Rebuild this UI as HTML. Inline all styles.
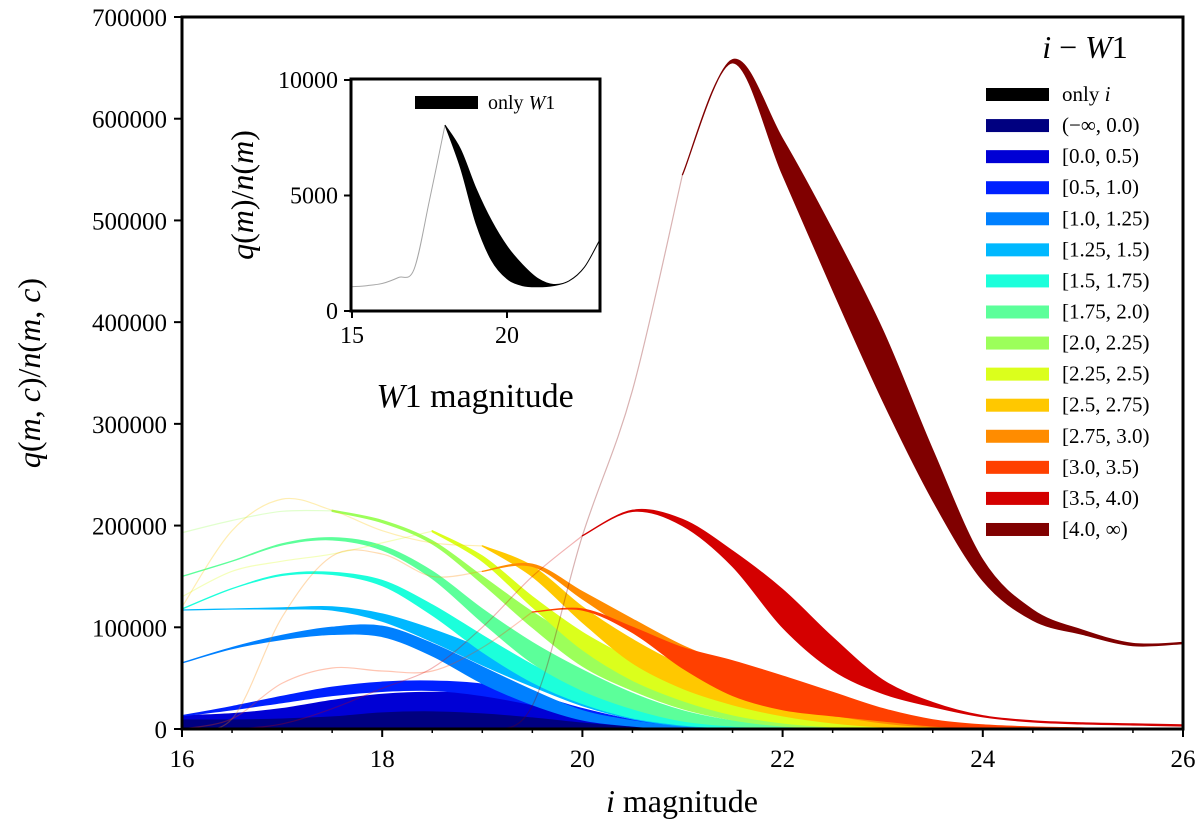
<!DOCTYPE html>
<html><head><meta charset="utf-8">
<style>
html,body{margin:0;padding:0;background:#fff;}
svg{display:block;font-family:"Liberation Serif",serif;}
</style></head>
<body>
<svg id="chart" width="1200" height="839" viewBox="0 0 1200 839" xmlns="http://www.w3.org/2000/svg">
<defs>
<clipPath id="mainClip"><rect x="182" y="17" width="1001" height="712"/></clipPath>
<clipPath id="insetClip"><rect x="351" y="79" width="249" height="232"/></clipPath>
</defs>
<g id="main-plot"></g>
<g id="inset-plot"></g>
<g id="legend"></g>
</svg>
<script>
// ---- main chart data (values in thousands), grid magnitudes 16..26 step 0.5
const mags = [16,16.5,17,17.5,18,18.5,19,19.5,20,20.5,21,21.5,22,22.5,23,23.5,24,24.5,25,25.5,26];
const seriesLabels = ['only <tspan font-style="italic">i</tspan>',"(−∞, 0.0)","[0.0, 0.5)","[0.5, 1.0)","[1.0, 1.25)","[1.25, 1.5)","[1.5, 1.75)","[1.75, 2.0)","[2.0, 2.25)","[2.25, 2.5)","[2.5, 2.75)","[2.75, 3.0)","[3.0, 3.5)","[3.5, 4.0)","[4.0, ∞)"];
const seriesColors = ["#000000","#000080","#0000d5","#0020ff","#0080ff","#00b8ff","#1cffdb","#5cff9a","#9cff5a","#dbff1c","#ffc800","#ff8c00","#ff4000","#d40000","#800000"];
const opaqueFrom = [0,0,0,0,0,0,0,0,3,5,6,6,7,8,10];
const upper0 = [3,3,3,3,3,3,3,2,2,1,1,1,0,0,0,0,0,0,0,0,0];
const lower0 = [0,0,0,0,0,0,0,0,0,0,0,0,0,0,0,0,0,0,0,0,0];
const upper1 = [12,11,11,13,17,18,16,12,7,3,1,0,0,0,0,0,0,0,0,0,0];
const lower1 = [0,0,0,0,0,0,0,0,0,0,0,0,0,0,0,0,0,0,0,0,0];
const upper2 = [13,15,20,28,34,36,34,26,15,6,2,1,0,0,0,0,0,0,0,0,0];
const lower2 = [10,10,11,13,17,18,16,12,7,3,1,0,0,0,0,0,0,0,0,0,0];
const upper3 = [13,22,32,41,46,47,44,34,20,9,3,1,0,0,0,0,0,0,0,0,0];
const lower3 = [13,19,26,33,37,38,33,24,13,5,1,0,0,0,0,0,0,0,0,0,0];
const upper4 = [65,80,92,100,101,84,61,38,18,8,2,0,0,0,0,0,0,0,0,0,0];
const lower4 = [65,79,88,93,91,72,45,24,9,3,0,0,0,0,0,0,0,0,0,0,0];
const upper5 = [117,118,119,120,113,98,79,57,35,18,7,2,0,0,0,0,0,0,0,0,0];
const lower5 = [117,118,118,117,106,86,63,42,23,10,3,1,0,0,0,0,0,0,0,0,0];
const upper6 = [118,138,152,154,146,122,92,63,39,21,9,3,1,0,0,0,0,0,0,0,0];
const lower6 = [118,138,151,152,141,112,76,46,25,11,4,1,0,0,0,0,0,0,0,0,0];
const upper7 = [150,165,182,188,180,155,118,85,58,35,18,8,3,1,0,0,0,0,0,0,0];
const lower7 = [150,165,181,186,176,148,105,65,38,20,8,3,1,0,0,0,0,0,0,0,0];
const upper8 = [193,205,214,215,205,185,150,115,85,58,35,18,8,3,1,0,0,0,0,0,0];
const lower8 = [193,205,214,214,203,182,143,100,62,38,20,9,3,1,0,0,0,0,0,0,0];
const upper9 = [130,155,165,172,183,195,170,130,95,68,45,28,15,7,2,0,0,0,0,0,0];
const lower9 = [130,155,165,172,183,194,165,120,78,48,28,14,6,2,0,0,0,0,0,0,0];
const upper10 = [120,195,226,215,195,183,180,160,120,88,62,42,27,16,8,3,1,0,0,0,0];
const lower10 = [120,195,226,215,195,183,180,150,105,65,40,24,13,6,2,0,0,0,0,0,0];
const upper11 = [0,10,110,170,172,150,155,162,135,108,82,62,42,27,15,7,3,1,0,0,0];
const lower11 = [0,10,110,170,172,150,155,160,128,95,65,42,26,14,6,2,1,0,0,0,0];
const upper12 = [0,10,45,60,57,57,80,115,118,100,80,67,52,36,20,9,4,2,1,0,0];
const lower12 = [0,10,45,60,57,57,80,115,117,95,60,33,19,13,8,3,1,0,0,0,0];
const upper13 = [0,0,5,20,40,60,100,150,190,215,206,175,137,90,48,26,13,8,6,5,4];
const lower13 = [0,0,5,20,40,60,100,150,190,214,200,160,100,58,35,22,12,7,5,4,3];
const upper14 = [0,0,0,0,0,0,0,23,190,333,545,658,580,490,392,274,166,117,97,84,85];
const lower14 = [0,0,0,0,0,0,0,23,190,333,545,655,545,432,323,225,146,107,93,82,84];
const uppers = [upper0,upper1,upper2,upper3,upper4,upper5,upper6,upper7,upper8,upper9,upper10,upper11,upper12,upper13,upper14];
const lowers = [lower0,lower1,lower2,lower3,lower4,lower5,lower6,lower7,lower8,lower9,lower10,lower11,lower12,lower13,lower14];
const xTicks = [16,18,20,22,24,26];
const yTicks = [0,100000,200000,300000,400000,500000,600000,700000];

// ---- inset data
const insetMags = [15,15.5,16,16.5,17,17.5,18,18.5,19,19.5,20,20.5,21,21.5,22,22.5,23];
const insetUpper = [1050,1100,1200,1450,1800,4800,8050,7000,5300,3900,2800,2000,1400,1150,1300,1900,3100];
const insetLower = [1050,1100,1200,1450,1800,4800,8050,6200,3800,2200,1400,1100,1050,1100,1300,1900,3100];
const insetOpaqueFrom = 6;
const insetXTicks = [15,20];
const insetYTicks = [0,5000,10000];

const NS = "http://www.w3.org/2000/svg";
function mk(tag, attrs, parent){const e=document.createElementNS(NS,tag);for(const k in attrs)e.setAttribute(k,attrs[k]);parent.appendChild(e);return e;}

const X = m => 182 + (m-16)*(1001/10);
const Y = v => 729 - v*712/700000;
const IX = m => 352 + (m-15)*31;
const IY = v => 311 - v*0.0231;

function crPath(pts){
  let d = "M"+pts[0][0].toFixed(2)+","+pts[0][1].toFixed(2);
  for(let i=0;i<pts.length-1;i++){
    const p0=pts[Math.max(i-1,0)],p1=pts[i],p2=pts[i+1],p3=pts[Math.min(i+2,pts.length-1)];
    const c1=[p1[0]+(p2[0]-p0[0])/6,p1[1]+(p2[1]-p0[1])/6];
    const c2=[p2[0]-(p3[0]-p1[0])/6,p2[1]-(p3[1]-p1[1])/6];
    d+="C"+c1[0].toFixed(2)+","+c1[1].toFixed(2)+" "+c2[0].toFixed(2)+","+c2[1].toFixed(2)+" "+p2[0].toFixed(2)+","+p2[1].toFixed(2);
  }
  return d;
}
function crBack(pts){
  const r = pts.slice().reverse();
  let d = crPath(r);
  return "L"+d.slice(1);
}

const main = document.getElementById("main-plot");
const series = mk("g",{"clip-path":"url(#mainClip)"},main);


for(let s=0;s<uppers.length;s++){
  const g = mk("g",{},series);
  
  
  const of = opaqueFrom[s];
  if(of>0){
    const fp=[];for(let i=0;i<=of;i++)fp.push([X(mags[i]),Y((uppers[s][i]+lowers[s][i])/2*1000)]);
    const fl = mk("path",{d:crPath(fp),fill:"none",stroke:seriesColors[s],"stroke-width":1.2,"stroke-opacity":0.3},g);
    
    
  }
  const up=[],lo=[];
  for(let i=of;i<mags.length;i++){up.push([X(mags[i]),Y(uppers[s][i]*1000)]);lo.push([X(mags[i]),Y(lowers[s][i]*1000)]);}
  const band = mk("path",{d:crPath(up)+crBack(lo)+"Z",fill:seriesColors[s],stroke:seriesColors[s],"stroke-width":1.3,"stroke-linejoin":"round"},g);
  
  
}
const frame = mk("rect",{x:182,y:17,width:1001,height:712,fill:"none",stroke:"#000","stroke-width":3},main);


xTicks.forEach(t=>{
  const l=mk("line",{x1:X(t),x2:X(t),y1:729,y2:737,stroke:"#000","stroke-width":2},main);
  
  
  const tx=mk("text",{x:X(t),y:767,"text-anchor":"middle","font-size":25},main);tx.textContent=t;
  
  
});
for(let m=16.5;m<26;m+=0.5){ if(m%2===0)continue;
  const l=mk("line",{x1:X(m),x2:X(m),y1:729,y2:733,stroke:"#000","stroke-width":1.5},main);
  
  
}
yTicks.forEach(t=>{
  const l=mk("line",{x1:174,x2:182,y1:Y(t),y2:Y(t),stroke:"#000","stroke-width":2},main);
  
  
  const tx=mk("text",{x:167,y:Y(t)+9,"text-anchor":"end","font-size":25},main);tx.textContent=t;
  
  
});
const xt=mk("text",{x:682,y:812,"text-anchor":"middle","font-size":32},main);
xt.innerHTML='<tspan font-style="italic">i</tspan> magnitude';


const yt=mk("text",{x:0,y:0,"text-anchor":"middle","font-size":32,transform:"translate(40,373) rotate(-90)"},main);
yt.innerHTML='<tspan font-style="italic">q</tspan>(<tspan font-style="italic">m</tspan>, <tspan font-style="italic">c</tspan>)/<tspan font-style="italic">n</tspan>(<tspan font-style="italic">m</tspan>, <tspan font-style="italic">c</tspan>)';



const leg = document.getElementById("legend");
const lt = mk("text",{x:1085,y:58,"text-anchor":"middle","font-size":32},leg);
lt.innerHTML='<tspan font-style="italic">i</tspan> − <tspan font-style="italic">W</tspan>1';


seriesLabels.forEach((lab,i)=>{
  const y = 94 + i*31.07;
  const r = mk("rect",{x:986,y:y-6,width:63,height:13,fill:seriesColors[i]},leg);
  
  
  const t = mk("text",{x:1062,y:y+7,"font-size":21},leg);
  t.innerHTML = lab;
  
  
});

const ins = document.getElementById("inset-plot");
mk("rect",{x:351,y:79,width:249,height:232,fill:"#fff"},ins);
const ig = mk("g",{"clip-path":"url(#insetClip)"},ins);


{
  const fp=[];for(let i=0;i<=insetOpaqueFrom;i++)fp.push([IX(insetMags[i]),IY(insetUpper[i])]);
  const fl=mk("path",{d:crPath(fp),fill:"none",stroke:"#000","stroke-width":1,"stroke-opacity":0.35},ig);
  
  
  const up=[],lo=[];
  for(let i=insetOpaqueFrom;i<insetMags.length;i++){up.push([IX(insetMags[i]),IY(insetUpper[i])]);lo.push([IX(insetMags[i]),IY(insetLower[i])]);}
  const b=mk("path",{d:crPath(up)+crBack(lo)+"Z",fill:"#000",stroke:"#000","stroke-width":1},ig);
  
  
}
const ifr=mk("rect",{x:351,y:79,width:249,height:232,fill:"none",stroke:"#000","stroke-width":3},ins);


insetXTicks.forEach(t=>{
  const l=mk("line",{x1:IX(t),x2:IX(t),y1:311,y2:318,stroke:"#000","stroke-width":2},ins);
  
  
  const tx=mk("text",{x:IX(t),y:343,"text-anchor":"middle","font-size":24},ins);tx.textContent=t;
  
  
});
insetYTicks.forEach(t=>{
  const l=mk("line",{x1:344,x2:351,y1:IY(t),y2:IY(t),stroke:"#000","stroke-width":2},ins);
  
  
  const tx=mk("text",{x:338,y:IY(t)+8,"text-anchor":"end","font-size":24},ins);tx.textContent=t;
  
  
});
const ixt=mk("text",{x:475,y:407,"text-anchor":"middle","font-size":34},ins);
ixt.innerHTML='<tspan font-style="italic">W</tspan>1 magnitude';


const iyt=mk("text",{x:0,y:0,"text-anchor":"middle","font-size":32,transform:"translate(253,195) rotate(-90)"},ins);
iyt.innerHTML='<tspan font-style="italic">q</tspan>(<tspan font-style="italic">m</tspan>)/<tspan font-style="italic">n</tspan>(<tspan font-style="italic">m</tspan>)';


const ils=mk("rect",{x:415,y:96,width:63,height:13,fill:"#000"},ins);


const ilt=mk("text",{x:488,y:109,"font-size":20},ins);
ilt.innerHTML='only <tspan font-style="italic">W</tspan>1';


</script>
</body></html>
